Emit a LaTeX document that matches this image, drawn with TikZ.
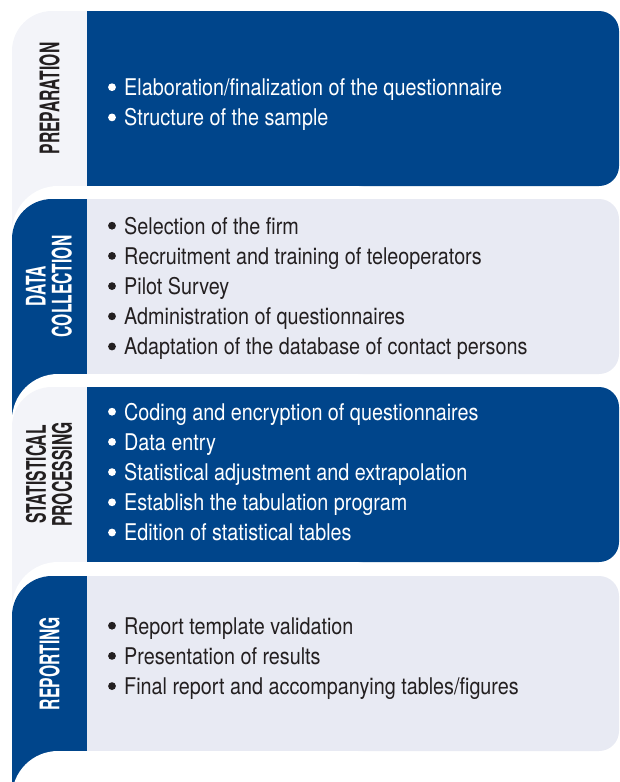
\documentclass[tikz,border=0pt]{standalone}
\usepackage{fontspec}
\setmainfont{TeX Gyre Heros}[FakeStretch=0.86]
\newfontfamily\tabfont{TeX Gyre Heros}[FakeStretch=0.58]
\definecolor{stepblue}{HTML}{00458B}
\definecolor{tablight}{HTML}{F3F4F9}
\definecolor{boxlight}{HTML}{E8EAF3}
\definecolor{inkdark}{HTML}{231F20}

\begin{document}
\begin{tikzpicture}
[x=1pt,y=-1pt,
tab/.style ={rounded corners=40pt},
gap/.style ={fill=white, rounded corners=46pt},
content/.style ={rounded corners=20pt},
phase/.style ={rotate=90, align=center, inner sep=0pt,
font=\tabfont\bfseries\fontsize{27}{26}\selectfont},
item/.style ={anchor=base west, inner sep=0pt,
font=\fontsize{23}{28}\selectfont},
dot/.style ={xshift=-12pt, yshift=8.3pt}]
\useasboundingbox (0,0) rectangle (619,782);
\clip (0,0) rectangle (619,782);
% preparation: light tab, blue box
\fill [tablight, tab] (12,11) rectangle (140,260);
\fill [stepblue, content] (87,11) -- (619,11) -- (619,186) -- (87,186);
\node [phase, inkdark] (prep) at (49.5,98.5) {PREPARATION};
\foreach \txt [count=\i] in {{Elaboration/finalization of the questionnaire},
  {Structure of the sample}} {
  \node [item, white] (prep-\i) at (124,{95.5+30.2*(\i-1)}) {\txt};
  \fill [white] ([dot]prep-\i.base west) circle (3.9pt);
}
% data collection: blue tab, light box
\fill [gap] (12,186) rectangle (400,320);
\fill [stepblue, tab] (12,199) rectangle (140,448);
\fill [boxlight, content] (87,199) -- (619,199) -- (619,374) -- (87,374);
\node [phase, white] (coll) at (49,286.5) {DATA\\COLLECTION};
\foreach \txt [count=\i] in {{Selection of the firm},
  {Recruitment and training of teleoperators},
  {Pilot Survey},
  {Administration of questionnaires},
  {Adaptation of the database of contact persons}} {
  \node [item, inkdark] (coll-\i) at (124,{234+30.2*(\i-1)}) {\txt};
  \fill [inkdark] ([dot]coll-\i.base west) circle (3.9pt);
}
% statistical processing: light tab, blue box
\fill [gap] (12,374) rectangle (400,510);
\fill [tablight, tab] (12,387) rectangle (140,637);
\fill [stepblue, content] (87,387) -- (619,387) -- (619,562) -- (87,562);
\node [phase, inkdark] (proc) at (49,474.5) {STATISTICAL\\PROCESSING};
\foreach \txt [count=\i] in {{Coding and encryption of questionnaires},
  {Data entry},
  {Statistical adjustment and extrapolation},
  {Establish the tabulation program},
  {Edition of statistical tables}} {
  \node [item, white] (proc-\i) at (124,{420+30.2*(\i-1)}) {\txt};
  \fill [white] ([dot]proc-\i.base west) circle (3.9pt);
}
% reporting: blue tab, light box
\fill [gap] (12,562) rectangle (400,700);
\fill [stepblue, tab] (12,576) rectangle (140,830);
\fill [boxlight, content] (87,576) -- (619,576) -- (619,751) -- (87,751);
\node [phase, white] (rep) at (49.5,663.5) {REPORTING};
\foreach \txt [count=\i] in {{Report template validation},
  {Presentation of results},
  {Final report and accompanying tables/figures}} {
  \node [item, inkdark] (rep-\i) at (124,{634+30.2*(\i-1)}) {\txt};
  \fill [inkdark] ([dot]rep-\i.base west) circle (3.9pt);
}
% closing cut at the foot
\fill [gap] (12,751) rectangle (400,900);
\end{tikzpicture}
\end{document}
